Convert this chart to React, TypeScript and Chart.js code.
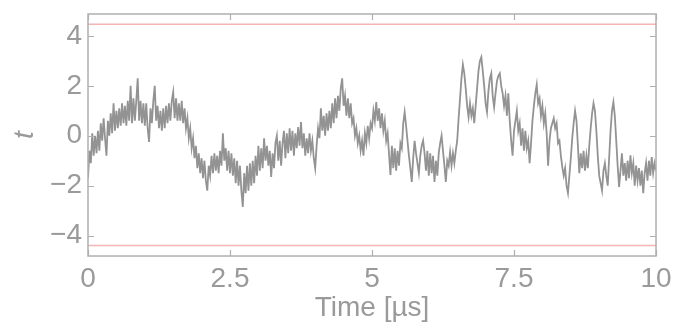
import React, { useEffect, useRef } from "react";
import { Chart, registerables } from "chart.js";

Chart.register(...registerables);

// Sampled signal t(time), one value every `timeStep` microseconds from 0 to 10 µs
const timeStep = 0.025;
const signal: number[] = [
  -1.7, -0.6, -1.1, 0.1, -0.8, 0.0, -0.7, 0.2, -0.6, 0.5, -0.2, 0.7, -0.1, -0.8, 0.6, 0.0, 0.9, 0.1, 1.3, 0.2,
  1.0, 0.3, 1.1, 0.4, 1.3, 0.5, 1.2, 0.4, 1.4, 0.6, 2.0, 0.5, 1.5, 0.6, 1.4, 2.3, 0.6, 1.4, 0.5, 1.3,
  0.4, 1.3, 0.3, -0.25, 1.1, 0.5, 1.4, 2.0, 0.6, 1.2, 0.3, 1.0, 0.2, 1.1, 0.3, 1.2, 0.5, 1.3, 0.6, 1.4,
  1.75, 0.7, 1.5, 0.6, 1.3, 0.6, 1.4, 0.5, 1.1, 0.3, 0.7, -0.1, 0.3, -0.5, -0.1, -0.9, -0.4, -1.3, -0.7, -1.5,
  -0.9, -1.7, -1.0, -1.8, -2.2, -1.2, -1.6, -0.8, -1.5, -0.7, -1.4, -0.8, -1.5, -0.6, -1.2, 0.1, -1.0, -0.5, -1.4, -0.6,
  -1.5, -0.7, -1.6, -0.9, -1.9, -1.0, -2.0, -1.2, -2.2, -2.85, -1.5, -2.3, -1.2, -2.2, -1.1, -2.0, -1.0, -1.9, -0.8, -1.6,
  -0.4, -1.4, -0.5, -1.3, -0.1, -1.0, -0.4, -1.2, -0.6, -1.65, -0.7, -1.3, -0.3, 0.0, -1.0, -0.2, -1.2, -0.3, 0.2, -0.9,
  0.1, -0.7, 0.3, -0.6, 0.2, -0.8, 0.1, -0.5, 0.35, -0.4, 0.55, -0.5, 0.1, -0.8, -0.1, -0.7, 0.1, -0.6, -0.2, -0.9,
  -1.3, -0.4, 0.3, -0.1, 1.1, 0.2, 0.8, 0.0, 0.9, 0.2, 1.0, 0.3, 1.3, 0.5, 1.5, 0.7, 1.6, 1.0, 1.9, 2.3,
  1.2, 1.6, 0.8, 1.5, 0.7, 1.3, 0.5, 0.7, 0.0, 0.3, -0.3, 0.0, -0.6, -0.2, -0.8, 0.1, -0.3, 0.4, -0.1, 0.5,
  0.3, 1.0, 0.6, 1.35, 0.6, 1.1, 0.3, 0.9, 0.2, 0.6, -0.2, 0.1, -0.75, -1.57, -0.4, -1.3, -0.5, -1.4, -0.6, -1.2,
  -0.3, -0.5, 0.5, 0.95, 0.4, -0.2, -0.8, -1.3, -1.85, -0.9, -0.2, -0.7, -1.1, -1.5, -0.8, -0.4, -0.2, -0.7, -1.4, -0.6,
  -1.6, -0.7, -1.5, -0.8, -1.85, -1.0, -1.6, -0.7, -0.3, 0.0, -0.6, -1.2, -1.85, -1.0, -1.2, -0.65, -1.2, -0.7, -1.1, -0.6,
  -0.2, 0.7, 1.5, 2.3, 2.85, 2.5, 1.9, 1.2, 0.75, 1.3, 0.8, 1.1, 0.5, 1.2, 1.9, 2.6, 3.0, 3.15, 2.6, 2.0,
  1.3, 0.95, 1.8, 2.3, 2.5, 1.6, 1.15, 1.7, 2.2, 2.4, 2.5, 2.0, 1.7, 1.2, 1.6, 0.8, 1.7, 0.6, -0.2, -0.8,
  0.2, 0.6, 1.0, 0.2, 0.5, -0.4, 0.3, -0.6, 0.2, -0.5, -0.2, -1.1, -0.3, 0.6, 1.2, 1.7, 2.05, 1.3, 1.5, 0.8,
  1.2, 0.5, 0.9, 0.1, -1.2, -0.2, 0.3, 0.5, 0.7, 0.3, 0.5, -0.3, -0.2, -0.8, -1.25, -1.6, -1.3, -2.0, -2.3, -1.6,
  -0.9, -0.1, 0.5, 1.0, 0.6, -0.4, -1.5, -0.7, -1.3, -0.6, -1.4, -0.8, -1.3, -0.4, 0.3, 0.9, 1.3, 1.0, 0.2, -0.8,
  -1.6, -1.9, -2.2, -1.4, -1.1, -1.6, -2.0, -0.9, 0.2, 1.0, 1.35, 0.8, -0.2, -1.2, -2.05, -1.4, -0.7, -1.6, -1.1, -1.8,
  -1.0, -1.7, -0.78, -1.5, -1.1, -2.0, -1.2, -1.8, -1.3, -2.0, -1.4, -2.3, -1.5, -1.1, -1.8, -1.0, -1.6, -0.85, -1.5, -1.1, -1.4,
];

// Threshold levels drawn as horizontal red lines
const thresholdUpper = 4.47;
const thresholdLower = -4.4;

// Axis ranges and tick positions
const timeRange = [0, 10];
const valueRange = [-4.82, 4.88];
const timeTicks = [0, 2.5, 5, 7.5, 10];
const timeTickLabels = ["0", "2.5", "5", "7.5", "10"];
const valueTicks = [-4, -2, 0, 2, 4];
const valueTickLabels = ["\u22124", "\u22122", "0", "2", "4"];

const textGray = "#9a9a9a";
const frameGray = "#b0b0b0";
const traceGray = "#939393";
const thresholdRed = "#f6b4b4";
const fontFamily = "'Liberation Sans', Arial, sans-serif";

// Frame around the plot area with short inward ticks on all four sides
const frameTicksPlugin = {
  id: "frameTicks",
  afterDatasetsDraw(chart: any) {
    const { ctx, chartArea: a, scales } = chart;
    const len = 6;
    ctx.save();
    ctx.strokeStyle = frameGray;
    ctx.lineWidth = 1.5;
    ctx.strokeRect(a.left, a.top, a.right - a.left, a.bottom - a.top);
    ctx.lineWidth = 1.2;
    ctx.beginPath();
    for (const v of timeTicks) {
      const px = Math.round(scales.x.getPixelForValue(v)) + 0.5;
      ctx.moveTo(px, a.bottom);
      ctx.lineTo(px, a.bottom - len);
      ctx.moveTo(px, a.top);
      ctx.lineTo(px, a.top + len);
    }
    for (const v of valueTicks) {
      const py = Math.round(scales.y.getPixelForValue(v)) + 0.5;
      ctx.moveTo(a.left, py);
      ctx.lineTo(a.left + len, py);
      ctx.moveTo(a.right, py);
      ctx.lineTo(a.right - len, py);
    }
    ctx.stroke();
    ctx.restore();
  },
};

export default function App() {
  const canvasRef = useRef<HTMLCanvasElement | null>(null);

  useEffect(() => {
    const canvas = canvasRef.current;
    if (!canvas) return;

    const tracePoints = signal.map((v, i) => ({ x: i * timeStep, y: v }));
    const upperLine = timeRange.map((x) => ({ x, y: thresholdUpper }));
    const lowerLine = timeRange.map((x) => ({ x, y: thresholdLower }));

    const chart = new Chart(canvas, {
      type: "line",
      data: {
        datasets: [
          {
            data: upperLine,
            borderColor: thresholdRed,
            borderWidth: 1.5,
            pointRadius: 0,
          },
          {
            data: lowerLine,
            borderColor: thresholdRed,
            borderWidth: 1.5,
            pointRadius: 0,
          },
          {
            data: tracePoints,
            borderColor: traceGray,
            borderWidth: 1.8,
            pointRadius: 0,
            tension: 0,
          },
        ],
      },
      options: {
        responsive: false,
        animation: false,
        events: [],
        layout: { padding: { top: 14, right: 17, left: 0, bottom: 0 } },
        plugins: {
          legend: { display: false },
          tooltip: { enabled: false },
        },
        scales: {
          x: {
            type: "linear",
            min: timeRange[0],
            max: timeRange[1],
            grid: { display: false, drawTicks: false },
            border: { display: false },
            afterBuildTicks: (scale: any) => {
              scale.ticks = timeTicks.map((value) => ({ value }));
            },
            afterFit: (scale: any) => {
              scale.height = 68;
              scale.paddingLeft = 0;
              scale.paddingRight = 0;
            },
            ticks: {
              color: textGray,
              padding: 6,
              maxRotation: 0,
              autoSkip: false,
              font: { family: fontFamily, size: 28, lineHeight: 1.2 },
              callback: (_v: any, i: number) => timeTickLabels[i],
            },
            title: {
              display: true,
              text: "Time [\u00b5s]",
              color: textGray,
              padding: { top: 0, bottom: 2 },
              font: { family: fontFamily, size: 28, lineHeight: 1 },
            },
          },
          y: {
            type: "linear",
            min: valueRange[0],
            max: valueRange[1],
            grid: { display: false, drawTicks: false },
            border: { display: false },
            afterBuildTicks: (scale: any) => {
              scale.ticks = valueTicks.map((value) => ({ value }));
            },
            afterFit: (scale: any) => {
              scale.width = 88;
              scale.paddingTop = 0;
              scale.paddingBottom = 0;
            },
            ticks: {
              color: textGray,
              padding: 6,
              autoSkip: false,
              font: { family: fontFamily, size: 28, lineHeight: 1.2 },
              callback: (_v: any, i: number) => valueTickLabels[i],
            },
            title: {
              display: true,
              text: "t",
              color: textGray,
              padding: { top: 8, bottom: 0 },
              font: { family: fontFamily, size: 28, style: "italic", lineHeight: 1.2 },
            },
          },
        },
      },
      plugins: [frameTicksPlugin],
    });

    return () => chart.destroy();
  }, []);

  return (
    <div style={{ position: "fixed", left: 0, top: 0, width: 673, height: 324, background: "#fff" }}>
      <canvas ref={canvasRef} width={673} height={324} />
    </div>
  );
}
